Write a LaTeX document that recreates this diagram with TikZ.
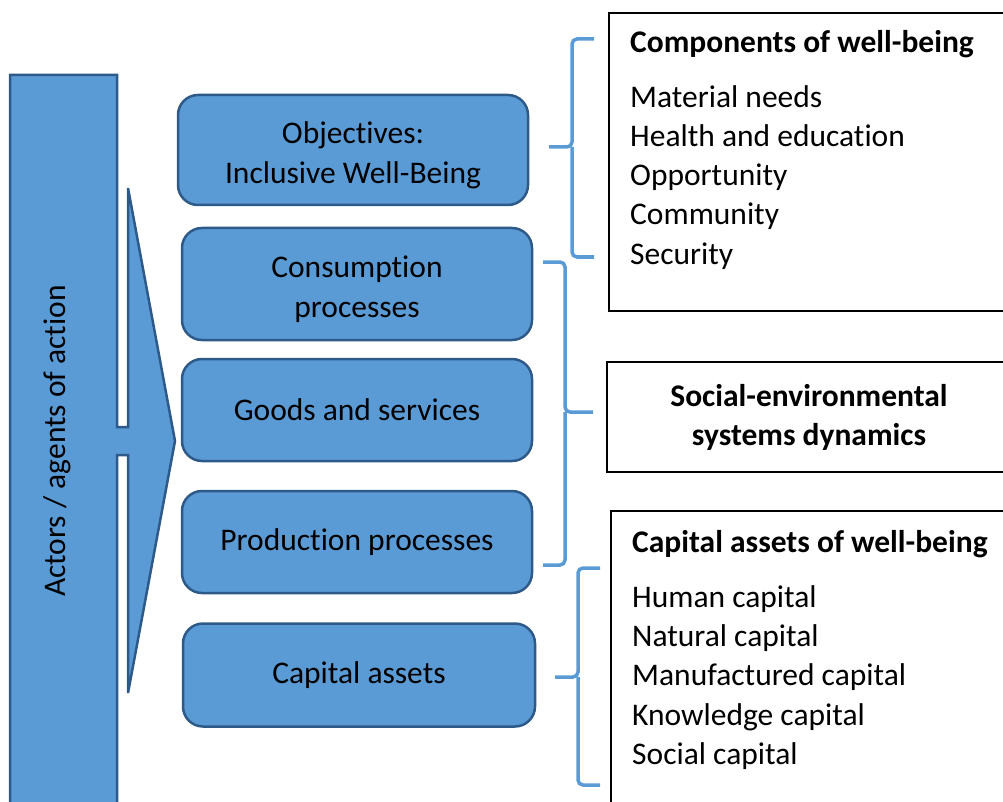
\documentclass[tikz,border=0pt]{standalone}
\usepackage{fontspec}
\setmainfont{Carlito}[RawFeature={-liga;-clig;-calt}]
\definecolor{stagefill}{HTML}{5B9BD5}
\definecolor{stageline}{HTML}{2E5A8A}

\begin{document}
\begin{tikzpicture}[x=1pt, y=-1pt, every node/.style={font=\fontsize{31.5}{39}\selectfont},
	stage/.style={draw=stageline, fill=stagefill, line width=2.5pt, rounded corners=20pt, align=center, minimum width=350pt, inner sep=0pt},
	brace/.style={draw=stagefill, line width=3.5pt, rounded corners=5pt},
	panel/.style={draw=black, line width=2pt, inner sep=0pt},
	entry/.style={anchor=base west, inner sep=0pt},
	heading/.style={entry, font=\fontsize{31.5}{39}\selectfont\bfseries}]
	\useasboundingbox (0,0) rectangle (1003,802);
	% actors bar with its arrow
	\draw[fill=stagefill, draw=stageline, line width=2.5pt] (10,840) -- (10,75) -- (117,75) -- (117,427) -- (128,427) -- (128,188) -- (175,441) -- (128,693) -- (128,455) -- (117,455) -- (117,840) -- cycle;
	\node[rotate=90] (actors) at (57,441) {Actors / agents of action};
	% stages
	\node[stage, minimum height=110pt] (obj) at (353,150) {\\[-6pt]Objectives:\\[1pt]Inclusive Well-Being};
	\node[stage, minimum height=112pt] (cons) at (357,284) {\\[-6pt]Consumption\\[1pt]processes};
	\node[stage, minimum height=102pt] (goods) at (357,410) {Goods and services};
	\node[stage, minimum height=102pt] (prod) at (357,542) {Production processes};
	\node[stage, minimum height=103pt, minimum width=352pt] (cap) at (359,675) {Capital assets};
	% braces
	\draw[brace] (594,39) -- (572,39) -- (572,147) -- (549,147);
	\draw[brace] (572,147) -- (572,257) -- (594,257);
	\draw[brace] (543,262) -- (565,262) -- (565,412) -- (593,412);
	\draw[brace] (565,412) -- (565,565) -- (543,565);
	\draw[brace] (600,568) -- (578,568) -- (578,677) -- (555,677);
	\draw[brace] (578,677) -- (578,785) -- (600,785);
	% components of well-being
	\node[panel, anchor=north west, minimum width=404pt, minimum height=298pt] (comp) at (608,12) {};
	\node[heading] (comptitle) at (630,53) {Components of well-being};
	\node[entry] (need1) at (630,108) {Material needs};
	\node[entry] (need2) at (630,147) {Health and education};
	\node[entry] (need3) at (630,186) {Opportunity};
	\node[entry] (need4) at (630,225) {Community};
	\node[entry] (need5) at (630,264) {Security};
	% systems dynamics
	\node[panel, minimum width=404pt, minimum height=110pt, align=center, font=\fontsize{31.5}{39}\selectfont\bfseries] (sesd) at (809,417) {Social-environmental\\systems dynamics};
	% capital assets of well-being
	\node[panel, anchor=north west, minimum width=402pt, minimum height=320pt] (assets) at (610,510) {};
	\node[heading] (assettitle) at (632,552) {Capital assets of well-being};
	\node[entry] (asset1) at (632,607) {Human capital};
	\node[entry] (asset2) at (632,646) {Natural capital};
	\node[entry] (asset3) at (632,685) {Manufactured capital};
	\node[entry] (asset4) at (632,725) {Knowledge capital};
	\node[entry] (asset5) at (632,764) {Social capital};
\end{tikzpicture}
\end{document}
